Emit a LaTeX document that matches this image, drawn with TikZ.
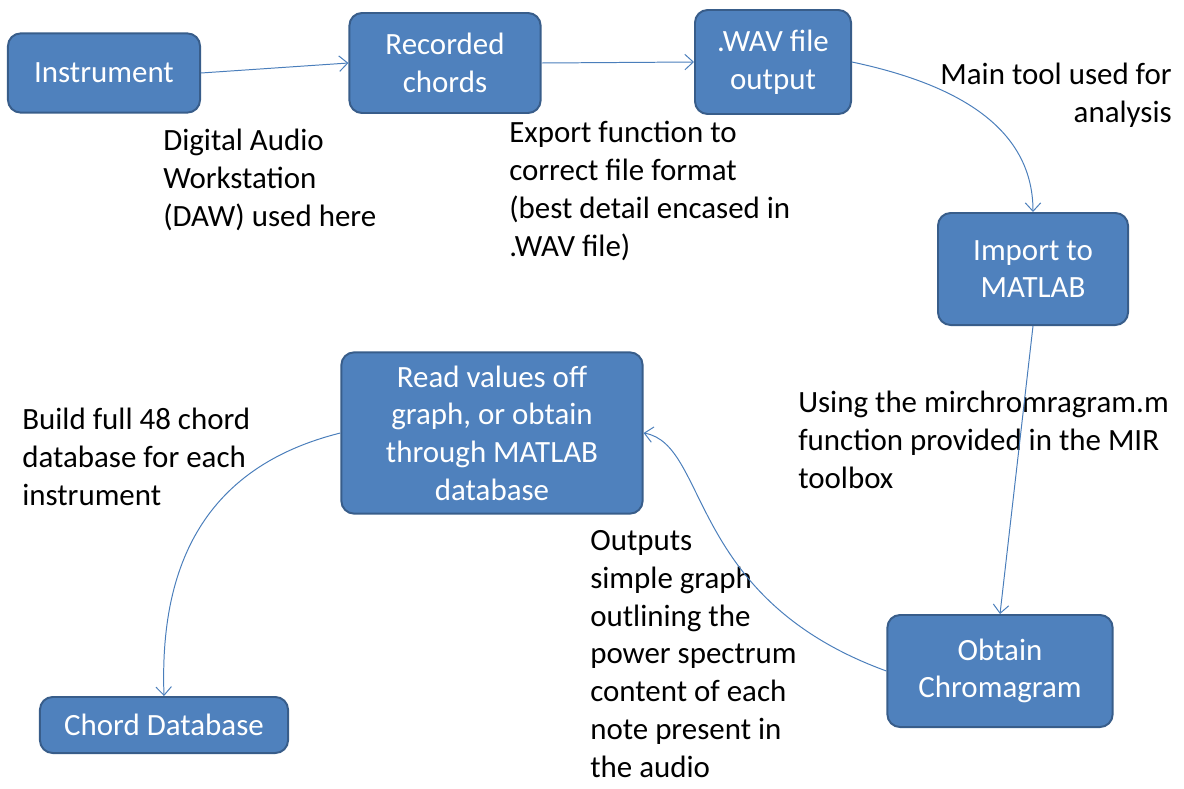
\documentclass[tikz,border=0pt]{standalone}
\usepackage{fontspec}
\setmainfont{Carlito}
\usepackage{xcolor}
\usetikzlibrary{arrows.meta}
\definecolor{BoxBlue}{RGB}{79,129,189}
\definecolor{BoxEdge}{RGB}{56,93,138}
\definecolor{LinkBlue}{RGB}{74,126,187}
\tikzset{
  stagebox/.style={draw=BoxEdge, line width=1.4pt, fill=BoxBlue, rounded corners=9pt,
    text=white, align=center, inner sep=0pt, font=\fontsize{22}{26.8}\selectfont},
  flow/.style={-{Straight Barb[length=6pt, width=11pt]}, LinkBlue, line width=0.7pt},
  note/.style={inner sep=0pt, font=\fontsize{22}{26.8}\selectfont},
}

\begin{document}
\begin{tikzpicture}[x=0.025cm, y=0.025cm]
  \useasboundingbox (0,0) rectangle (1184,-789);
  % stages
  \node[stagebox, minimum width=4.8cm, minimum height=1.98cm] (inst) at (104,-73) {Instrument};
  \node[stagebox, minimum width=4.78cm, minimum height=2.5cm] (rec) at (445,-63) {Recorded\\chords};
  \node[stagebox, minimum width=3.9cm, minimum height=2.6cm] (wav) at (773,-62) {.WAV file\\output};
  \node[stagebox, minimum width=4.75cm, minimum height=2.8cm] (imp) at (1033,-269) {Import to\\MATLAB};
  \node[stagebox, minimum width=5.63cm, minimum height=2.8cm] (chroma) at (1000,-671) {Obtain\\Chromagram};
  \node[stagebox, minimum width=7.53cm, minimum height=4.03cm] (read) at (492,-433) {Read values off\\graph, or obtain\\through MATLAB\\database};
  \node[stagebox, minimum width=6.2cm, minimum height=1.4cm] (chdb) at (164,-725) {Chord Database};
  % notes (anchored at the baseline of their last line)
  \node[note, anchor=base west, align=left] (daw) at (163,-226) {Digital Audio\\Workstation\\(DAW) used here};
  \node[note, anchor=base west, align=left] (export) at (509,-256) {Export function to\\correct file format\\(best detail encased in\\.WAV file)};
  \node[note, anchor=base east, align=right] (maintool) at (1172,-122) {Main tool used for\\analysis};
  \node[note, anchor=base west, align=left] (mirtool) at (798,-488) {Using the mirchromragram.m\\function provided in the MIR\\toolbox};
  \node[note, anchor=base west, align=left] (build) at (22,-505) {Build full 48 chord\\database for each\\instrument};
  \node[note, anchor=base west, align=left] (outputs) at (590,-777) {Outputs\\simple graph\\outlining the\\power spectrum\\content of each\\note present in\\the audio};
  % connectors
  \draw[flow] (inst.east) -- (rec.west);
  \draw[flow] (rec.east) -- (wav.west);
  \draw[flow] (wav.east) to[out=-12, in=90] (imp.north);
  \draw[flow] (imp.south) -- (chroma.north);
  \draw[flow] (chroma.west) to[out=160, in=-10, out looseness=1.6, in looseness=0.5] (read.east);
  \draw[flow] (read.west) to[out=194, in=92, out looseness=1.25, in looseness=0.9] (chdb.north);
\end{tikzpicture}
\end{document}
